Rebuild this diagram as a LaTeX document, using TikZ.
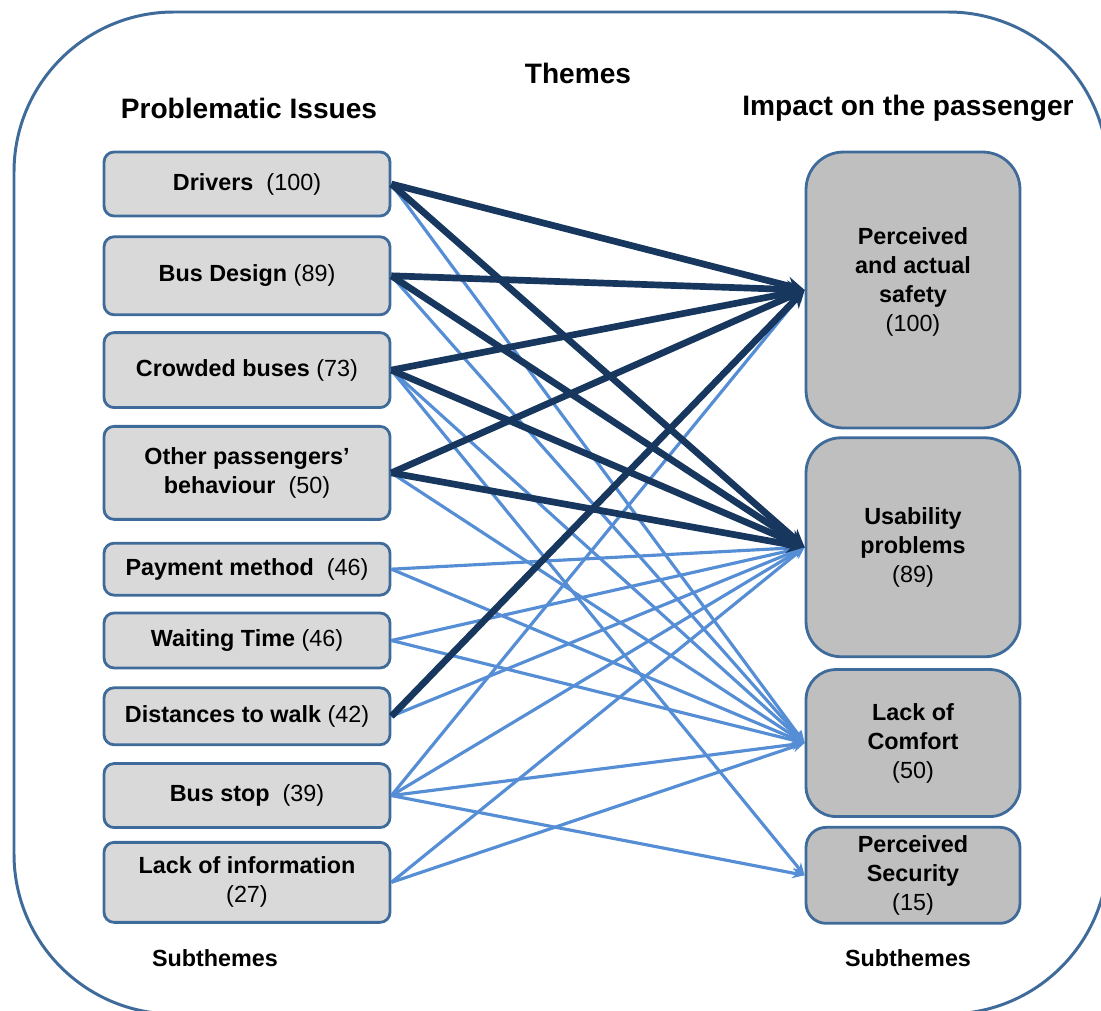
\documentclass[tikz,border=0pt]{standalone}
\usepackage{fontspec}
\setmainfont{Liberation Sans}
\usetikzlibrary{positioning,arrows.meta}
\definecolor{boxline}{HTML}{3F6B9B}
\definecolor{darklink}{HTML}{17375E}
\definecolor{lightlink}{HTML}{558ED5}
\definecolor{issuefill}{HTML}{D9D9D9}
\definecolor{impactfill}{HTML}{BFBFBF}
\tikzset{issue node/.style={rectangle,rounded corners=0.2cm,draw=boxline,line width=1.6pt,fill=issuefill,minimum width=5.72cm,inner sep=2pt,align=center,font=\fontsize{13.3}{16.5}\selectfont}}
\tikzset{impact node/.style={issue node,fill=impactfill,minimum width=4.28cm}}
\tikzset{strong link/.style={draw=darklink,line width=3.8pt,-{Stealth[length=10pt,width=10pt]}}}
\tikzset{weak link/.style={draw=lightlink,line width=1.8pt,-{Stealth[length=7pt,width=6pt]}}}
\tikzset{heading/.style={font=\bfseries\fontsize{16}{19}\selectfont}}

\begin{document}
\begin{tikzpicture}[x=0.02cm,y=-0.02cm]
            \useasboundingbox (0,0) rectangle (1101,1010);
            \clip (0,0) rectangle (1101,1010);
            \draw[boxline, line width=1.7pt, rounded corners=3.2cm] (14,12) rectangle (1108,1014);

            \node[heading] (themes) at (578,73) {Themes};
            \node[heading] (problems) at (249,108) {Problematic Issues};
            \node[heading] (impact) at (908,108) {Impact on the passenger};

            % problematic issues
            \node[issue node, minimum height=1.28cm] (drivers) at (247,184) {\textbf{Drivers}~~(100)};
            \node[issue node, minimum height=1.56cm] (design) [below = 0.36cm of drivers] {\textbf{Bus Design} (89)};
            \node[issue node, minimum height=1.5cm] (crowded) [below = 0.3cm of design] {\textbf{Crowded buses} (73)};
            \node[issue node, minimum height=1.86cm] (others) [below = 0.32cm of crowded] {\textbf{Other passengers'}\\\textbf{behaviour}~~(50)};
            \node[issue node, minimum height=1.04cm] (payment) [below = 0.42cm of others] {\textbf{Payment method}~~(46)};
            \node[issue node, minimum height=1.1cm] (waiting) [below = 0.3cm of payment] {\textbf{Waiting Time} (46)};
            \node[issue node, minimum height=1.14cm] (walking) [below = 0.34cm of waiting] {\textbf{Distances to walk} (42)};
            \node[issue node, minimum height=1.28cm] (busstop) [below = 0.32cm of walking] {\textbf{Bus stop}~~(39)};
            \node[issue node, minimum height=1.6cm] (information) [below = 0.24cm of busstop] {\textbf{Lack of information}\\(27)};

            % impact on the passenger
            \node[impact node, rounded corners=0.75cm, minimum height=5.52cm] (safety) at (913,290) {\textbf{Perceived}\\\textbf{and actual}\\\textbf{safety}\\(100)\\[-0.18cm]};
            \node[impact node, rounded corners=0.7cm, minimum height=4.38cm] (usability) [below = 0.14cm of safety] {\textbf{Usability}\\\textbf{problems}\\(89)};
            \node[impact node, rounded corners=0.6cm, minimum height=2.94cm] (comfort) [below = 0.2cm of usability] {\textbf{Lack of}\\\textbf{Comfort}\\(50)};
            \node[impact node, rounded corners=0.4cm, minimum height=1.92cm] (security) [below = 0.16cm of comfort] {\textbf{Perceived}\\\textbf{Security}\\(15)};

            \node[font=\bfseries\fontsize{13.3}{16}\selectfont] (leftsub) at (215,958) {Subthemes};
            \node[font=\bfseries\fontsize{13.3}{16}\selectfont] (rightsub) at (908,958) {Subthemes};

            \path
            (drivers.east) edge[weak link] (comfort.west)
            (design.east) edge[weak link] (comfort.west)
            (crowded.east) edge[weak link] (comfort.west)
            (crowded.east) edge[weak link] (security.west)
            (others.east) edge[weak link] (comfort.west)
            (payment.east) edge[weak link] (usability.west)
            (payment.east) edge[weak link] (comfort.west)
            (waiting.east) edge[weak link] (usability.west)
            (waiting.east) edge[weak link] (comfort.west)
            (walking.east) edge[weak link] (usability.west)
            (busstop.east) edge[weak link] (safety.west)
            (busstop.east) edge[weak link] (usability.west)
            (busstop.east) edge[weak link] (comfort.west)
            (busstop.east) edge[weak link] (security.west)
            (information.east) edge[weak link] (usability.west)
            (information.east) edge[weak link] (comfort.west);

            \path
            (drivers.east) edge[strong link] (safety.west)
            (drivers.east) edge[strong link] (usability.west)
            (design.east) edge[strong link] (safety.west)
            (design.east) edge[strong link] (usability.west)
            (crowded.east) edge[strong link] (safety.west)
            (crowded.east) edge[strong link] (usability.west)
            (others.east) edge[strong link] (safety.west)
            (others.east) edge[strong link] (usability.west)
            (walking.east) edge[strong link] (safety.west);
        \end{tikzpicture}
\end{document}
